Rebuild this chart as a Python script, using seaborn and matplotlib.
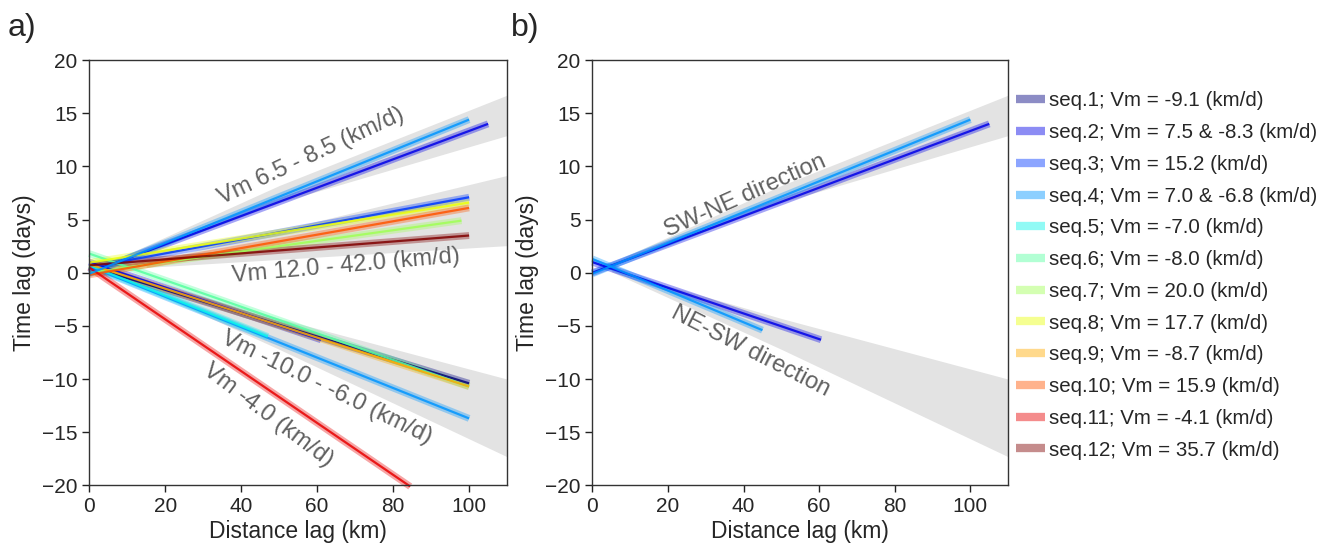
import numpy as np
import pandas as pd
import matplotlib
matplotlib.use("Agg")
import matplotlib.pyplot as plt
from matplotlib.lines import Line2D
import seaborn as sns

sns.set_style("ticks")
plt.rcParams['font.family'] = ['Liberation Sans', 'DejaVu Sans']

# ---------------- data ----------------
seq_labels = [
    "seq.1; Vm = -9.1 (km/d)",
    "seq.2; Vm = 7.5 & -8.3 (km/d)",
    "seq.3; Vm = 15.2 (km/d)",
    "seq.4; Vm = 7.0 & -6.8 (km/d)",
    "seq.5; Vm = -7.0 (km/d)",
    "seq.6; Vm = -8.0 (km/d)",
    "seq.7; Vm = 20.0 (km/d)",
    "seq.8; Vm = 17.7 (km/d)",
    "seq.9; Vm = -8.7 (km/d)",
    "seq.10; Vm = 15.9 (km/d)",
    "seq.11; Vm = -4.1 (km/d)",
    "seq.12; Vm = 35.7 (km/d)",
]

# fitted lines, panel a: sequence index, start/end distance, start/end time lag
a_seq     = [1,    2,    2,    3,    4,     5,    6,     7,    8,    9,     10,   11,    12,  4]
a_x_start = [0,    0,    0,    0,    0,     0,    0,     0,    0,    0,     0,    0,     0,   0]
a_x_end   = [100,  105,  61,   100,  100,   47,   100,   98,   100,  100,   100,  84.5,  100, 100]
a_y_start = [0.6,  0.0,  1.0,  0.5,  0.6,   0.7,  1.8,   0.0,  0.95, 0.8,   -0.2, 0.5,   0.7, -0.1]
a_y_end   = [-10.4, 14.0, -6.3, 7.1, -13.7, -6.0, -10.7, 4.9,  6.6,  -10.7, 6.1,  -20.1, 3.5, 14.4]

# fitted lines, panel b (seq.2 and seq.4 only)
b_seq     = [2,    2,    4,    4]
b_x_start = [0,    0,    0,    0]
b_x_end   = [105,  60.5, 100,  45]
b_y_start = [0.0,  1.0,  -0.1, 1.3]
b_y_end   = [14.0, -6.3, 14.4, -5.4]

# grey confidence wedges (edges)
up_band_x  = [3, 50, 110]
up_band_lo = [0.3, 6.6, 12.9]
up_band_hi = [0.6, 8.2, 16.7]

mid_band_x  = [15, 110]
mid_band_lo = [0.5, 2.55]
mid_band_hi = [0.97, 9.15]

low_band_x  = [5, 50, 110]
low_band_lo = [0.1, -7.2, -17.3]
low_band_hi = [0.3, -4.3, -10.0]

x_ticks = [0, 20, 40, 60, 80, 100]
y_ticks = [-20, -15, -10, -5, 0, 5, 10, 15, 20]

# ---------------- style ----------------
jet = plt.get_cmap('jet')
seq_colors = {i + 1: jet(i / 11) for i in range(12)}
band_color = '#e3e3e3'
annot_color = '#606060'


def lines_frame(seqs, xs0, xs1, ys0, ys1):
    rows = []
    for k, (s, x0, x1, y0, y1) in enumerate(zip(seqs, xs0, xs1, ys0, ys1)):
        rows.append(dict(line=k, seq=s, x=x0, y=y0))
        rows.append(dict(line=k, seq=s, x=x1, y=y1))
    return pd.DataFrame(rows)


def draw_lines(ax, df):
    pal = {k: seq_colors[s] for k, s in df.groupby('line')['seq'].first().items()}
    for lw, al in [(5.0, 0.35), (1.6, 0.85)]:
        sns.lineplot(data=df, x='x', y='y', hue='line', palette=pal, units='line',
                     estimator=None, sort=False, legend=False, lw=lw, alpha=al,
                     ax=ax, clip_on=False, solid_capstyle='butt')


def style_ax(ax, label):
    ax.set_xlim(0, 110)
    ax.set_ylim(-20, 20)
    ax.set_xticks(x_ticks)
    ax.set_yticks(y_ticks)
    ax.tick_params(axis='both', labelsize=15, length=5, width=1, direction='out',
                   color='#222222', top=False, right=False)
    for sp in ax.spines.values():
        sp.set_visible(True)
        sp.set_color('#333333')
        sp.set_linewidth(1.0)
    ax.set_xlabel('Distance lag (km)', fontsize=16.5, labelpad=3)
    ax.set_ylabel('Time lag (days)', fontsize=16.5, labelpad=4)
    ax.text(-0.195, 1.04, label, transform=ax.transAxes, fontsize=23,
            ha='left', va='bottom')


fig = plt.figure(figsize=(13.38, 5.51), dpi=100)
axa = fig.add_axes([0.0667, 0.119, 0.3123, 0.772])
axb = fig.add_axes([0.4427, 0.119, 0.3108, 0.772])

# panel a
axa.fill_between(up_band_x, up_band_lo, up_band_hi, color=band_color, lw=0, zorder=0)
axa.fill_between(mid_band_x, mid_band_lo, mid_band_hi, color=band_color, lw=0, zorder=0)
axa.fill_between(low_band_x, low_band_lo, low_band_hi, color=band_color, lw=0, zorder=0)
draw_lines(axa, lines_frame(a_seq, a_x_start, a_x_end, a_y_start, a_y_end))
style_ax(axa, 'a)')

axa.text(58.5, 11.0, 'Vm 6.5 - 8.5 (km/d)', rotation=25, fontsize=17, color=annot_color,
         ha='center', va='center', rotation_mode='anchor')
axa.text(67.5, 0.6, 'Vm 12.0 - 42.0 (km/d)', rotation=5, fontsize=17, color=annot_color,
         ha='center', va='center', rotation_mode='anchor')
axa.text(62.5, -10.8, 'Vm -10.0 - -6.0 (km/d)', rotation=-26, fontsize=17, color=annot_color,
         ha='center', va='center', rotation_mode='anchor')
axa.text(47.0, -13.4, 'Vm -4.0 (km/d)', rotation=-37, fontsize=17, color=annot_color,
         ha='center', va='center', rotation_mode='anchor')

# panel b
axb.fill_between(up_band_x, up_band_lo, up_band_hi, color=band_color, lw=0, zorder=0)
axb.fill_between(low_band_x, low_band_lo, low_band_hi, color=band_color, lw=0, zorder=0)
draw_lines(axb, lines_frame(b_seq, b_x_start, b_x_end, b_y_start, b_y_end))
style_ax(axb, 'b)')

axb.text(40.5, 7.2, 'SW-NE direction', rotation=24, fontsize=17, color=annot_color,
         ha='center', va='center', rotation_mode='anchor')
axb.text(41.8, -7.4, 'NE-SW direction', rotation=-27, fontsize=17, color=annot_color,
         ha='center', va='center', rotation_mode='anchor')

# legend
handles = [Line2D([0], [0], color=seq_colors[i + 1], lw=6, alpha=0.45,
                  solid_capstyle='butt') for i in range(12)]
fig.legend(handles, seq_labels, loc='upper left', bbox_to_anchor=(0.759, 0.834),
           frameon=False, fontsize=14.8, handlelength=1.45, handletextpad=0.2,
           labelspacing=0.62, borderpad=0, borderaxespad=0)

fig.savefig('out.png', dpi=100)
